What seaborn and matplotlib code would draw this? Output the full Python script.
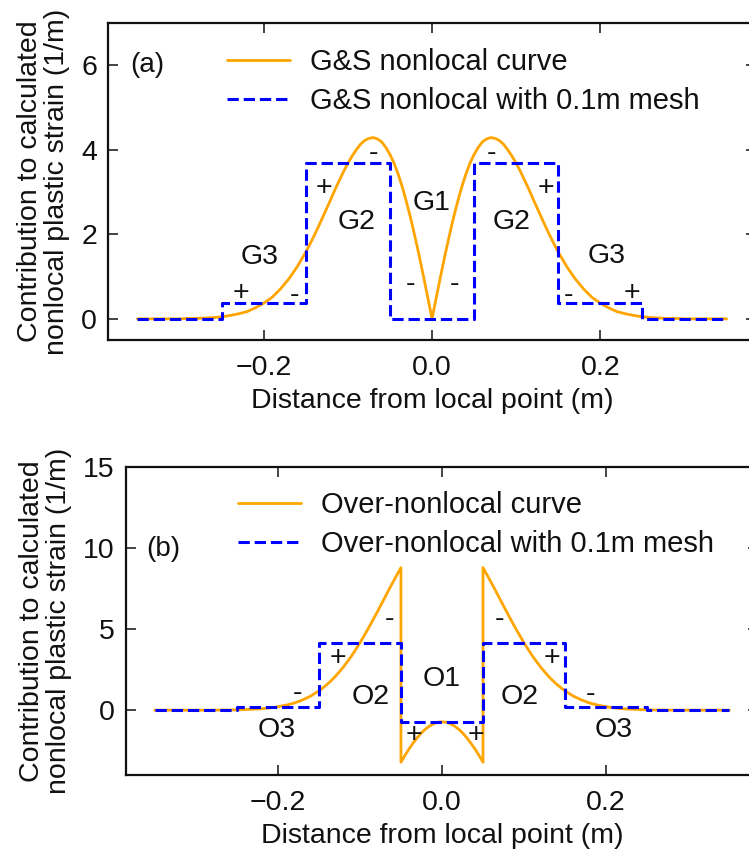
import matplotlib
matplotlib.use("Agg")
import matplotlib.pyplot as plt
import pandas as pd
import seaborn as sns

# Sampling positions along the bar (m); denser near the centre
distance = [-0.35, -0.34, -0.33, -0.32, -0.31, -0.30, -0.29, -0.28, -0.27, -0.26,
            -0.25, -0.24, -0.23, -0.22, -0.21, -0.20, -0.19, -0.18, -0.17, -0.16,
            -0.150, -0.145, -0.140, -0.135, -0.130, -0.125, -0.120, -0.115, -0.110, -0.105,
            -0.100, -0.095, -0.090, -0.085, -0.080, -0.075, -0.070, -0.065, -0.060, -0.055,
            -0.050, -0.045, -0.040, -0.035, -0.030, -0.025, -0.020, -0.015, -0.010, -0.005,
            0.000,
            0.005, 0.010, 0.015, 0.020, 0.025, 0.030, 0.035, 0.040, 0.045, 0.050,
            0.055, 0.060, 0.065, 0.070, 0.075, 0.080, 0.085, 0.090, 0.095, 0.100,
            0.105, 0.110, 0.115, 0.120, 0.125, 0.130, 0.135, 0.140, 0.145, 0.150,
            0.16, 0.17, 0.18, 0.19, 0.20, 0.21, 0.22, 0.23, 0.24, 0.25,
            0.26, 0.27, 0.28, 0.29, 0.30, 0.31, 0.32, 0.33, 0.34, 0.35]

# G&S nonlocal weighting curve (1/m)
gs_curve = [0.00, 0.00, 0.00, 0.00, 0.00, 0.00, 0.01, 0.01, 0.02, 0.03,
            0.05, 0.08, 0.12, 0.17, 0.26, 0.37, 0.51, 0.71, 0.95, 1.24,
            1.58, 1.77, 1.97, 2.18, 2.40, 2.62, 2.84, 3.07, 3.28, 3.49,
            3.68, 3.85, 4.00, 4.13, 4.22, 4.27, 4.29, 4.26, 4.19, 4.06,
            3.89, 3.68, 3.41, 3.10, 2.74, 2.35, 1.92, 1.47, 0.99, 0.50,
            0.00,
            0.50, 0.99, 1.47, 1.92, 2.35, 2.74, 3.10, 3.41, 3.68, 3.89,
            4.06, 4.19, 4.26, 4.29, 4.27, 4.22, 4.13, 4.00, 3.85, 3.68,
            3.49, 3.28, 3.07, 2.84, 2.62, 2.40, 2.18, 1.97, 1.77, 1.58,
            1.24, 0.95, 0.71, 0.51, 0.37, 0.26, 0.17, 0.12, 0.08, 0.05,
            0.03, 0.02, 0.01, 0.01, 0.00, 0.00, 0.00, 0.00, 0.00, 0.00]

# Over-nonlocal curve: jumps at the edges of the central element (x = +-0.05)
over_distance = [-0.35, -0.34, -0.33, -0.32, -0.31, -0.30, -0.29, -0.28, -0.27, -0.26,
                 -0.25, -0.24, -0.23, -0.22, -0.21, -0.20, -0.19, -0.18, -0.17, -0.16,
                 -0.150, -0.145, -0.140, -0.135, -0.130, -0.125, -0.120, -0.115, -0.110, -0.105,
                 -0.100, -0.095, -0.090, -0.085, -0.080, -0.075, -0.070, -0.065, -0.060, -0.055,
                 -0.050, -0.050,
                 -0.045, -0.040, -0.035, -0.030, -0.025, -0.020, -0.015, -0.010, -0.005, 0.000,
                 0.005, 0.010, 0.015, 0.020, 0.025, 0.030, 0.035, 0.040, 0.045,
                 0.050, 0.050,
                 0.055, 0.060, 0.065, 0.070, 0.075, 0.080, 0.085, 0.090, 0.095, 0.100,
                 0.105, 0.110, 0.115, 0.120, 0.125, 0.130, 0.135, 0.140, 0.145, 0.150,
                 0.16, 0.17, 0.18, 0.19, 0.20, 0.21, 0.22, 0.23, 0.24, 0.25,
                 0.26, 0.27, 0.28, 0.29, 0.30, 0.31, 0.32, 0.33, 0.34, 0.35]
over_curve = [0.00, 0.00, 0.00, 0.00, 0.00, 0.00, 0.00, 0.00, 0.01, 0.01,
              0.02, 0.04, 0.06, 0.09, 0.14, 0.21, 0.31, 0.44, 0.63, 0.87,
              1.19, 1.38, 1.59, 1.82, 2.08, 2.37, 2.67, 3.01, 3.36, 3.75,
              4.15, 4.58, 5.02, 5.48, 5.95, 6.43, 6.91, 7.40, 7.87, 8.34,
              8.79, -3.21,
              -2.78, -2.38, -2.02, -1.69, -1.40, -1.16, -0.97, -0.83, -0.74, -0.72,
              -0.74, -0.83, -0.97, -1.16, -1.40, -1.69, -2.02, -2.38, -2.78,
              -3.21, 8.79,
              8.34, 7.87, 7.40, 6.91, 6.43, 5.95, 5.48, 5.02, 4.58, 4.15,
              3.75, 3.36, 3.01, 2.67, 2.37, 2.08, 1.82, 1.59, 1.38, 1.19,
              0.87, 0.63, 0.44, 0.31, 0.21, 0.14, 0.09, 0.06, 0.04, 0.02,
              0.01, 0.01, 0.00, 0.00, 0.00, 0.00, 0.00, 0.00, 0.00, 0.00]

# 0.1 m mesh: element edges and element values
mesh_edges = [-0.35, -0.25, -0.15, -0.05, 0.05, 0.15, 0.25, 0.35]
gs_mesh = [0.00, 0.37, 3.68, 0.00, 3.68, 0.37, 0.00]
over_mesh = [0.00, 0.21, 4.15, -0.72, 4.15, 0.21, 0.00]

x_ticks = [-0.2, 0.0, 0.2]
x_tick_labels = ["\u22120.2", "0.0", "0.2"]

# Region labels: (text, x, y)
gs_notes = [("G1", 0.0, 2.75), ("G2", -0.090, 2.30), ("G2", 0.094, 2.30),
            ("G3", -0.205, 1.47), ("G3", 0.208, 1.49),
            ("-", -0.070, 3.93), ("-", 0.071, 3.93),
            ("+", -0.128, 3.09), ("+", 0.135, 3.09),
            ("-", -0.026, 0.83), ("-", 0.027, 0.83),
            ("+", -0.2275, 0.61), ("+", 0.238, 0.61),
            ("-", -0.163, 0.57), ("-", 0.162, 0.57)]
over_notes = [("O1", 0.0, 1.90), ("O2", -0.087, 0.79), ("O2", 0.094, 0.79),
              ("O3", -0.201, -1.24), ("O3", 0.209, -1.24),
              ("-", -0.064, 5.63), ("-", 0.070, 5.63),
              ("+", -0.127, 3.21), ("+", 0.134, 3.21),
              ("-", -0.176, 1.07), ("-", 0.1815, 1.0),
              ("+", -0.034, -1.55), ("+", 0.041, -1.55)]

FS = 20.5

sns.set_theme(style="ticks")
plt.rcParams["font.family"] = ["Liberation Sans", "DejaVu Sans"]
plt.rcParams.update({
    "axes.linewidth": 1.6,
    "axes.edgecolor": "#111111",
    "axes.labelcolor": "#111111",
    "xtick.color": "#111111", "ytick.color": "#111111",
    "xtick.direction": "in", "ytick.direction": "in",
    "xtick.top": True, "ytick.right": True,
    "xtick.major.size": 7, "ytick.major.size": 7,
    "xtick.major.width": 1.1, "ytick.major.width": 1.1,
    "xtick.major.pad": 11, "ytick.major.pad": 8,
    "xtick.labelsize": FS, "ytick.labelsize": FS,
    "axes.labelsize": FS,
    "text.color": "#111111",
})

ORANGE = "#FFA500"
BLUE = "#0000FF"

fig = plt.figure(figsize=(7.49, 8.5), dpi=100)
ax_a = fig.add_axes([0.1442, 0.600, 0.8652, 0.3729])
ax_b = fig.add_axes([0.1682, 0.0882, 0.8438, 0.3624])

panels = [
    (ax_a, distance, gs_curve, gs_mesh, "G&S nonlocal curve",
     "G&S nonlocal with 0.1m mesh", (-0.5, 7), [0, 2, 4, 6], "(a)", (-0.338, 6.0),
     gs_notes, (0.184, 0.922)),
    (ax_b, over_distance, over_curve, over_mesh, "Over-nonlocal curve",
     "Over-nonlocal with 0.1m mesh", (-4, 15), [0, 5, 10, 15], "(b)", (-0.340, 9.93),
     over_notes, (0.177, 0.922)),
]

for (ax, xs, ys, mesh, lab_curve, lab_mesh, ylim, yticks, tag, tag_xy,
     notes, leg_anchor) in panels:
    curve_df = pd.DataFrame({"x": xs, "y": ys})
    mesh_df = pd.DataFrame({"x": mesh_edges, "y": mesh + [mesh[-1]]})
    sns.lineplot(data=curve_df, x="x", y="y", ax=ax, sort=False, estimator=None,
                 color=ORANGE, linewidth=2.0, label=lab_curve)
    sns.lineplot(data=mesh_df, x="x", y="y", ax=ax, sort=False, estimator=None,
                 color=BLUE, linewidth=2.2, linestyle="--", drawstyle="steps-post",
                 label=lab_mesh)
    ax.set_xlim(-0.385, 0.385)
    ax.set_ylim(*ylim)
    ax.set_xticks(x_ticks)
    ax.set_xticklabels(x_tick_labels)
    ax.set_yticks(yticks)
    ax.set_xlabel("Distance from local point (m)", labelpad=5)
    ax.set_ylabel("Contribution to calculated\nnonlocal plastic strain (1/m)",
                  labelpad=8, linespacing=1.05)
    ax.text(tag_xy[0], tag_xy[1], tag, fontsize=FS - 0.5, ha="center", va="center")
    for txt, tx, ty in notes:
        ax.text(tx, ty, txt, fontsize=FS, ha="center", va="center")
    ax.legend(loc="upper left", bbox_to_anchor=leg_anchor, frameon=False,
              fontsize=21, handlelength=2.15, handletextpad=0.7,
              labelspacing=0.38, borderpad=0, borderaxespad=0)

fig.align_ylabels([ax_a, ax_b])
fig.savefig("out.png", dpi=100)
